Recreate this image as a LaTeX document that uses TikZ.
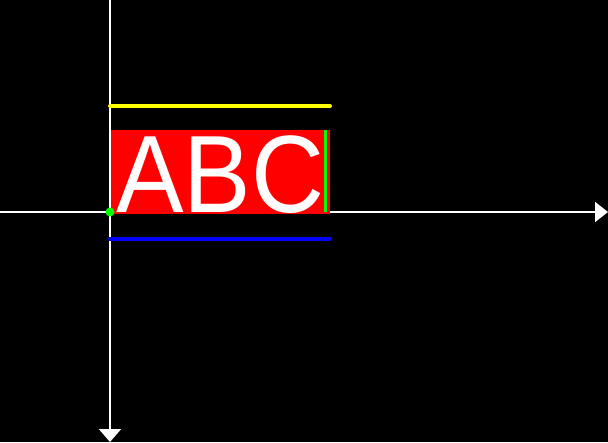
\documentclass[tikz,border=0pt]{standalone}
\usepackage{fontspec}
\setmainfont{Liberation Sans}
\usepackage{graphicx}
\usetikzlibrary{arrows.meta}
\definecolor{MetricYellow}{HTML}{FFFF00}
\definecolor{MetricBlue}{HTML}{0000FF}
\definecolor{MetricGreen}{HTML}{00FF00}
\definecolor{MetricRed}{HTML}{FF0000}
\begin{document}
\begin{tikzpicture}[x=1pt,y=1pt]
% Origin sits on the baseline at the start of the text; one unit is one pixel.
\fill[black] (-110,-230) rectangle (498,212);
\useasboundingbox (-110,-230) rectangle (498,212);
\draw[white,line width=2pt,-{Triangle[width=20pt,length=13pt]}] (-110,0) -- (498,0);
\draw[white,line width=2pt,-{Triangle[width=22pt,length=13pt]}] (0,212) -- (0,-230);
\draw[MetricYellow,line width=4pt,line cap=round] (0,106) -- (220,106);
\fill[MetricRed] (1,-2) rectangle (220,82);
\node[anchor=base west,inner sep=0pt,text=white,font=\fontsize{110}{110}\selectfont] (abc) at (6,0) {\scalebox{0.92}[1]{ABC}};
\draw[MetricGreen,line width=3pt] (215,82) -- (215,0);
\draw[MetricBlue,line width=4pt,line cap=round] (0,-27) -- (220,-27);
\fill[MetricGreen] (0,0) circle (4.5);
\end{tikzpicture}
\end{document}
